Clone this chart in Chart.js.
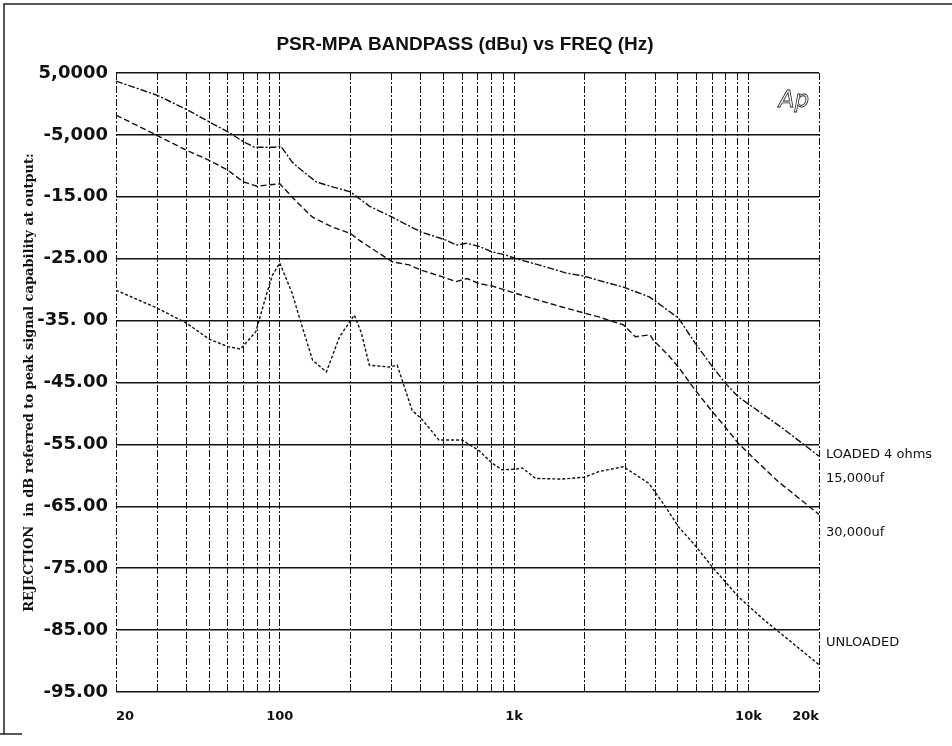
<!DOCTYPE html>
<html>
<head>
<meta charset="utf-8">
<script src="https://cdn.jsdelivr.net/npm/chart.js@4/dist/chart.umd.min.js"></script>
<style>
  html, body { margin: 0; padding: 0; background: #fff; }
  canvas { display: block; }
</style>
</head>
<body>
<canvas id="c" width="952" height="746"></canvas>
<script>
// ---- data ----
const freqA = [20, 30, 40, 50, 60, 70, 78, 95, 101, 113, 121, 143, 168, 200, 241, 302, 401, 512, 566, 626, 708, 804, 921, 1017, 1274, 1660, 1980, 2294, 2930, 3790, 5025, 5915, 6940, 7960, 9040, 11700, 14000, 20000];
const dbA   = [3.7, 1.4, -0.9, -2.9, -4.5, -6.1, -7.0, -7.0, -6.8, -9.4, -10.4, -12.6, -13.4, -14.2, -16.5, -18.3, -20.7, -22.0, -22.8, -22.5, -23.0, -23.9, -24.4, -25.0, -26.0, -27.3, -27.8, -28.5, -29.6, -31.2, -34.6, -38.6, -42.2, -45.1, -47.3, -50.3, -52.4, -56.9];

const freqB = [20, 30, 40, 50, 60, 70, 80, 88, 100, 118, 138, 168, 200, 218, 248, 302, 356, 405, 492, 566, 630, 708, 804, 921, 1017, 1190, 1600, 2294, 2930, 3290, 3802, 3930, 4553, 5025, 5915, 6940, 7960, 9040, 9980, 13380, 20000];
const dbB   = [-1.8, -5.1, -7.5, -9.1, -10.7, -12.6, -13.3, -13.1, -12.9, -15.8, -18.3, -19.9, -20.9, -22.0, -23.4, -25.5, -26.0, -26.9, -27.9, -28.7, -28.2, -29.0, -29.4, -30.1, -30.6, -31.4, -32.8, -34.4, -35.7, -37.6, -37.3, -38.2, -40.6, -42.5, -46.2, -49.5, -52.2, -54.8, -56.4, -61.0, -66.3];

const freqC = [20, 30, 40, 50, 60, 68, 79, 88, 93, 100, 113, 121, 138, 158, 180, 208, 223, 241, 293, 317, 367, 401, 478, 600, 708, 804, 887, 1017, 1082, 1236, 1600, 2000, 2294, 2930, 3760, 4430, 5025, 5915, 7080, 7960, 9040, 11700, 14000, 20000];
const dbC   = [-30.1, -33.0, -35.4, -38.0, -39.2, -39.6, -36.8, -30.6, -27.7, -25.7, -30.6, -34.4, -41.4, -43.3, -37.6, -34.1, -37.0, -42.2, -42.5, -42.2, -49.5, -50.8, -54.3, -54.3, -56.0, -58.0, -59.1, -59.0, -58.8, -60.5, -60.6, -60.3, -59.4, -58.6, -61.3, -65.1, -68.3, -71.3, -75.0, -77.2, -79.6, -83.4, -85.8, -90.6];

const xTickValues = [20, 30, 40, 50, 60, 70, 80, 90, 100, 200, 300, 400, 500, 600, 700, 800, 900, 1000, 2000, 3000, 4000, 5000, 6000, 7000, 8000, 9000, 10000, 20000];
const xTickLabels = {20: '20', 100: '100', 1000: '1k', 10000: '10k', 20000: '20k'};

const yTickValues = [5, -5, -15, -25, -35, -45, -55, -65, -75, -85, -95];
const yTickLabels = ['5,0000', '-5,000', '-15.00', '-25.00', '-35. 00', '-45.00', '-55.00', '-65.00', '-75.00', '-85.00', '-95.00'];

const sideLabels = ['LOADED 4 ohms', '15,000uf', '30,000uf', 'UNLOADED'];
const sideLabelDb = [-56.6, -60.6, -69.2, -87.1];

const titleText = 'PSR-MPA BANDPASS (dBu) vs FREQ (Hz)';
const yTitleText = 'REJECTION  in dB referred to peak signal capability at output:';

function pts(fx, fy) { return fx.map((f, i) => ({x: f, y: fy[i]})); }

const sidePlugin = {
  id: 'side',
  afterDraw(chart) {
    const ctx = chart.ctx, ys = chart.scales.y, ca = chart.chartArea;
    ctx.save();
    ctx.fillStyle = '#111';
    ctx.font = '13px "DejaVu Sans"';
    ctx.textAlign = 'left';
    ctx.textBaseline = 'middle';
    sideLabels.forEach((t, i) => ctx.fillText(t, ca.right + 7, ys.getPixelForValue(sideLabelDb[i])));
    // Ap logo
    ctx.font = 'italic 23px "DejaVu Sans"';
    ctx.strokeStyle = '#222';
    ctx.lineWidth = 0.8;
    ctx.textAlign = 'right';
    ctx.strokeText('Ap', ca.right - 10, ca.top + 28);
    // page frame
    ctx.strokeStyle = '#222';
    ctx.lineWidth = 1.5;
    ctx.beginPath();
    ctx.moveTo(4, 734); ctx.lineTo(4, 4); ctx.lineTo(952, 4);
    ctx.moveTo(0, 734); ctx.lineTo(22, 734);
    ctx.stroke();
    ctx.restore();
  }
};

const common = {borderColor: '#111', borderWidth: 1.4, pointRadius: 0, fill: false, tension: 0};

new Chart(document.getElementById('c'), {
  type: 'line',
  data: {
    datasets: [
      Object.assign({label: 'LOADED 4 ohms 15,000uf', data: pts(freqA, dbA), borderDash: [7, 2, 2, 2]}, common),
      Object.assign({label: '30,000uf', data: pts(freqB, dbB), borderDash: [6, 3]}, common),
      Object.assign({label: 'UNLOADED', data: pts(freqC, dbC), borderDash: [3, 2]}, common)
    ]
  },
  options: {
    responsive: false,
    animation: false,
    devicePixelRatio: 1,
    layout: {padding: {left: 0, right: 22, top: 0, bottom: 0}},
    plugins: {
      legend: {display: false},
      tooltip: {enabled: false},
      title: {
        display: true,
        text: titleText,
        color: '#111',
        font: {family: '"Liberation Sans", Arial, sans-serif', size: 19, weight: 'bold'},
        padding: {top: 33.6, bottom: 16.6}
      }
    },
    scales: {
      x: {
        type: 'logarithmic',
        min: 20, max: 20000,
        afterBuildTicks(s) { s.ticks = xTickValues.map(v => ({value: v})); },
        afterFit(s) { s.height = 54; },
        ticks: {
          autoSkip: false,
          maxRotation: 0,
          align: 'inner',
          padding: 17,
          color: '#111',
          font: {family: '"DejaVu Sans"', size: 13, weight: 'bold'},
          callback(v) { return xTickLabels[v] || ''; }
        },
        grid: {color: '#111', lineWidth: 1, drawTicks: false},
        border: {display: false, dash: [7, 2, 2, 2]}
      },
      y: {
        type: 'linear',
        min: -95, max: 5,
        afterBuildTicks(s) { s.ticks = yTickValues.map(v => ({value: v})); },
        afterFit(s) { s.width = 116; },
        ticks: {
          autoSkip: false,
          padding: 8,
          color: '#111',
          font: {family: '"DejaVu Sans"', size: 18, weight: 'bold'},
          callback(v) { const i = yTickValues.indexOf(v); return i >= 0 ? yTickLabels[i] : ''; }
        },
        grid: {color: '#111', lineWidth: 1.5, drawTicks: false},
        border: {display: false},
        title: {
          display: true,
          text: yTitleText,
          color: '#111',
          font: {family: '"DejaVu Serif", "Liberation Serif", serif', size: 13, weight: 'bold'},
          padding: {top: 22, bottom: 0}
        }
      },
      yR: {
        type: 'linear',
        position: 'right',
        min: -95, max: 5,
        afterFit(s) { s.width = 111; },
        ticks: {display: false},
        grid: {display: false, drawOnChartArea: false},
        border: {display: false}
      }
    }
  },
  plugins: [sidePlugin]
});
</script>
</body>
</html>
